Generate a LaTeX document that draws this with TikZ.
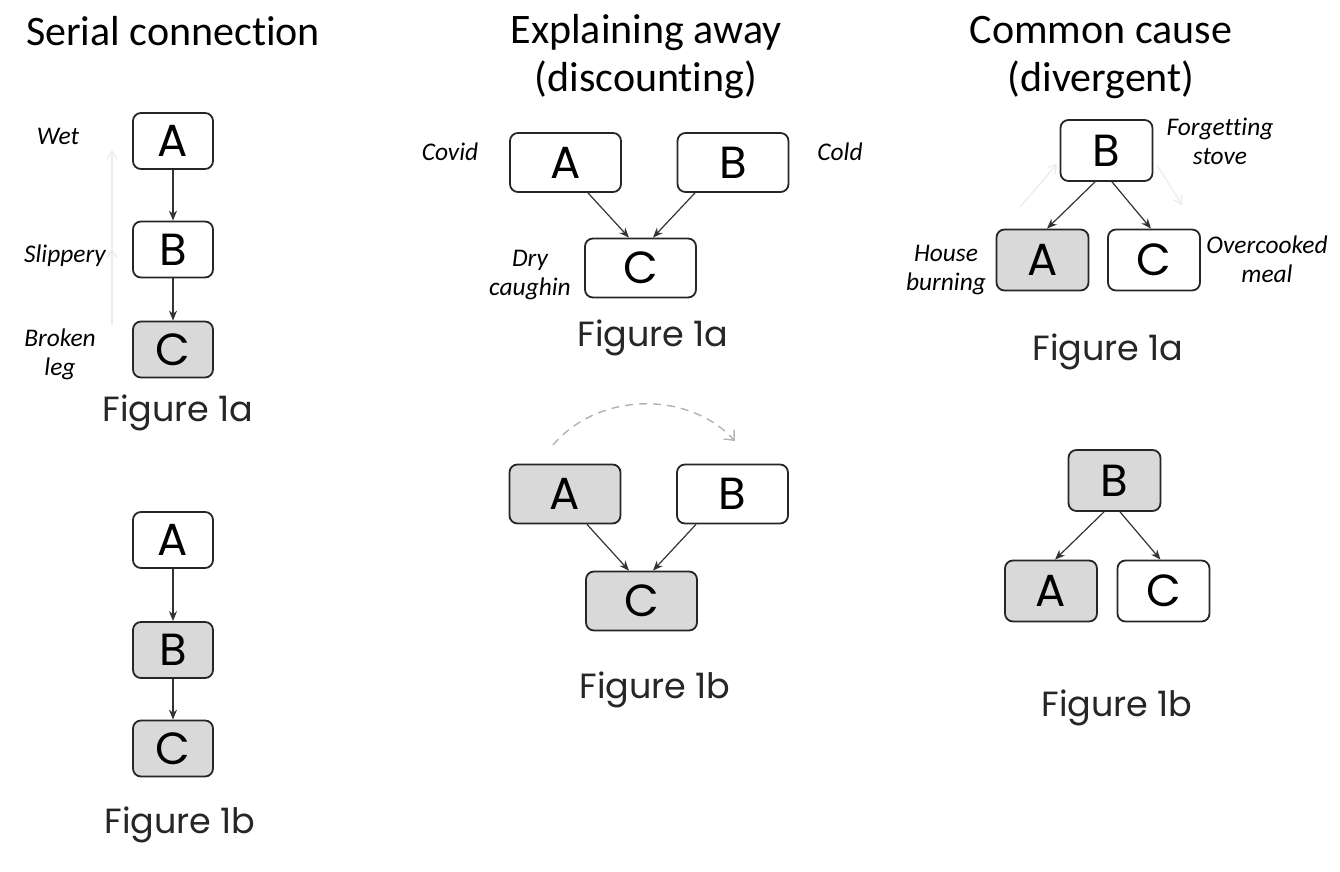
\documentclass[tikz,border=0pt]{standalone}
\usepackage{fontspec}
\setmainfont{Carlito}[Ligatures=NoCommon]
\newfontfamily\geo{Poppins}
\usetikzlibrary{arrows.meta}
\tikzset{
  bx/.style={draw=black!85, line width=0.9pt, rounded corners=4pt, inner sep=0pt,
     font=\geo\fontsize{22.5}{22.5}\selectfont},
  lc/.style={bx, minimum width=40pt, minimum height=28pt},
  mc/.style={bx, minimum width=55.5pt, minimum height=29.5pt},
  rc/.style={bx, minimum width=46pt, minimum height=30.5pt},
  obs/.style={fill=gray!30},
  edge/.style={draw=black!80, line width=0.6pt, -{Stealth[length=5pt,width=4pt]}},
  faint/.style={draw=black!8, line width=0.6pt, -{Straight Barb[length=4pt,width=5pt]}},
  ttl/.style={font=\fontsize{21}{24}\selectfont, align=center},
  lbl/.style={font=\itshape\fontsize{12.7}{14.5}\selectfont, align=center},
  figcap/.style={font=\geo\fontsize{17.5}{18}\selectfont, text=black!85},
}
\begin{document}
\begin{tikzpicture}[x=0.5pt, y=-0.5pt]
\path[use as bounding box] (0,0) rectangle (1340,872);
% ---------- titles
\node[ttl] (t1) at (173,31) {Serial connection};
\node[ttl] (t2) at (646,57) {Explaining away\\(discounting)};
\node[ttl] (t3) at (1101,57) {Common cause\\(divergent)};

% ---------- Serial connection 1a
\node[lc] (sa) at (173,141) {A};
\node[lc] (sb) at (173,249.5) {B};
\node[lc, obs] (sc) at (173,349.5) {C};
\draw[edge] (sa) -- (sb);
\draw[edge] (sb) -- (sc);
\node[lbl] (lw) at (58,136) {Wet};
\node[lbl] (ls) at (65,256) {Slippery};
\node[lbl] (lb) at (60,354) {Broken\\leg};
\node[figcap] (f1a) at (178,413) {Figure 1a};
\coordinate (fa0) at (112,325);
\coordinate (fa1) at (112,249);
\coordinate (fa2) at (112,150);
\draw[faint] (fa0) -- (fa1);
\draw[faint] (fa1) -- (fa2);

% ---------- Serial connection 1b
\node[lc] (sa2) at (173,540) {A};
\node[lc, obs] (sb2) at (173,650) {B};
\node[lc, obs] (sc2) at (173,748.5) {C};
\draw[edge] (sa2) -- (sb2);
\draw[edge] (sb2) -- (sc2);
\node[figcap] (f1b) at (180,825) {Figure 1b};

% ---------- Explaining away 1a
\node[mc] (ea) at (565.5,162.5) {A};
\node[mc] (eb) at (733,162.5) {B};
\node[mc] (ec) at (640.5,268) {C};
\draw[edge] ([xshift=11.25pt]ea.south) -- ([xshift=-5.75pt]ec.north);
\draw[edge] ([xshift=-19pt]eb.south) -- ([xshift=6.25pt]ec.north);
\node[lbl] (lcv) at (450,152) {Covid};
\node[lbl] (lcd) at (840,152) {Cold};
\node[lbl] (ldc) at (530,275) {Dry\\caughin};
\node[figcap] (f2a) at (653,338) {Figure 1a};

% ---------- Explaining away 1b
\node[mc, obs] (ea2) at (565,494) {A};
\node[mc] (eb2) at (732.5,494) {B};
\node[mc, obs] (ec2) at (641.5,601) {C};
\draw[edge] ([xshift=11pt]ea2.south) -- ([xshift=-6.25pt]ec2.north);
\draw[edge] ([xshift=-18.25pt]eb2.south) -- ([xshift=5.75pt]ec2.north);
\coordinate (ds) at (553,445);
\coordinate (de) at (735,441);
\draw[draw=black!30, line width=0.7pt, dash pattern=on 4pt off 3pt,
      -{Straight Barb[length=4pt,width=7pt]}]
      (ds) .. controls (598,392) and (688,390) .. (de);
\node[figcap] (f2b) at (655,690) {Figure 1b};

% ---------- Common cause 1a
\node[rc] (cb) at (1106.5,150.5) {B};
\node[rc, obs] (ca) at (1042.5,260) {A};
\node[rc] (cc) at (1154,260) {C};
\draw[edge] ([xshift=-5.75pt]cb.south) -- ([xshift=2.25pt]ca.north);
\draw[edge] ([xshift=2.75pt]cb.south) -- ([xshift=-1.5pt]cc.north);
\node[lbl] (lfs) at (1220,141) {Forgetting\\stove};
\node[lbl] (lom) at (1267,259) {Overcooked\\meal};
\node[lbl] (lhb) at (946,270) {House\\burning};
\node[figcap] (f3a) at (1108,352) {Figure 1a};
\coordinate (fc0) at (1020,207);
\coordinate (fc1) at (1057,164);
\coordinate (fc2) at (1157,165);
\coordinate (fc3) at (1182,205);
\draw[faint] (fc0) -- (fc1);
\draw[faint] (fc2) -- (fc3);

% ---------- Common cause 1b
\node[rc, obs] (cb2) at (1114.5,480.5) {B};
\node[rc, obs] (ca2) at (1051,591) {A};
\node[rc] (cc2) at (1163.5,591) {C};
\draw[edge] ([xshift=-5.25pt]cb2.south) -- ([xshift=2pt]ca2.north);
\draw[edge] ([xshift=2.75pt]cb2.south) -- ([xshift=-1.5pt]cc2.north);
\node[figcap] (f3b) at (1117,708) {Figure 1b};
\end{tikzpicture}
\end{document}
